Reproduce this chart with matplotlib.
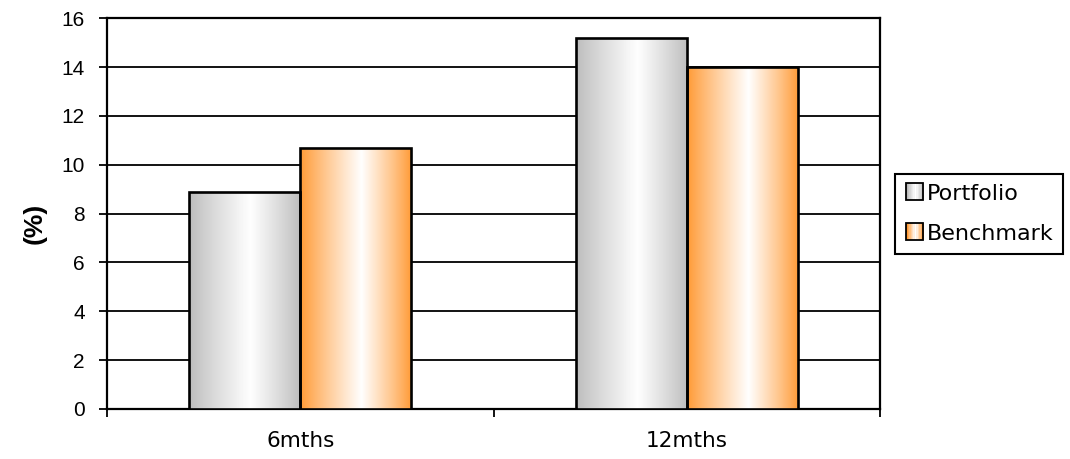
import numpy as np
import matplotlib
matplotlib.use("Agg")
import matplotlib.pyplot as plt
from matplotlib.patches import Rectangle
from matplotlib.legend_handler import HandlerBase
import matplotlib.colors as mcolors

categories = ["6mths", "12mths"]
series_names = ["Portfolio", "Benchmark"]
portfolio = [8.9, 15.2]
benchmark = [10.7, 14.0]
yticks = [0, 2, 4, 6, 8, 10, 12, 14, 16]

colors = ["#bcbcbc", "#ff9933"]

def gradient_rgb(color, n=256, peak=0.55):
    base = np.array(mcolors.to_rgb(color))
    t = np.linspace(0, 1, n)
    w = np.where(t < peak, t / peak, 1 - (t - peak) / (1 - peak))
    w = np.clip(w, 0, 1) ** 0.9
    rgb = base[None, :] * (1 - w[:, None]) + np.ones(3)[None, :] * w[:, None]
    return rgb

fig = plt.figure(figsize=(10.70, 4.59), dpi=100)
ax = fig.add_axes([107 / 1070, 50 / 459, 773 / 1070, (409 - 18.3) / 459])

x = np.arange(len(categories))
width = 0.2875
all_series = [portfolio, benchmark]

for grid_y in yticks:
    ax.axhline(grid_y, color="black", lw=1.3, zorder=1)

for si, (vals, col) in enumerate(zip(all_series, colors)):
    offs = (si - 0.5) * width
    bars = ax.bar(x + offs, vals, width=width, facecolor="none",
                  edgecolor="black", linewidth=1.9, zorder=4,
                  label=series_names[si])
    grad = gradient_rgb(col)[None, :, :]
    for b in bars:
        x0, y0 = b.get_x(), b.get_y()
        w, h = b.get_width(), b.get_height()
        im = ax.imshow(grad, extent=[x0, x0 + w, y0, y0 + h], aspect="auto",
                       interpolation="bilinear", zorder=3, origin="lower")
        clip = Rectangle((x0, y0), w, h, transform=ax.transData)
        im.set_clip_path(clip)

ax.set_xlim(-0.5, 1.5)
ax.set_ylim(0, 16)

ax.set_yticks(yticks)
ax.set_yticklabels([str(v) for v in yticks], fontfamily="Liberation Sans", fontsize=15)
ax.tick_params(axis="y", direction="out", length=6, width=1.3, pad=10, colors="black")

ax.set_xticks(x)
ax.set_xticklabels(categories, fontfamily="DejaVu Sans", fontsize=15.5)
ax.tick_params(axis="x", which="major", length=0, pad=16)
ax.set_xticks([-0.5, 0.5, 1.5], minor=True)
ax.tick_params(axis="x", which="minor", direction="out", length=6, width=1.3)

for s in ax.spines.values():
    s.set_color("black")
    s.set_linewidth(1.6)

ax.set_ylabel("(%)", fontfamily="Liberation Sans", fontweight="bold", fontsize=19)
ax.yaxis.set_label_coords(-0.078, 0.475)


class GradHandler(HandlerBase):
    def __init__(self, color):
        super().__init__()
        self.color = color

    def create_artists(self, legend, orig_handle, xdescent, ydescent,
                       width, height, fontsize, trans):
        size = height * 1.1
        x0 = -xdescent + (width - size)
        y0 = -ydescent + (height - size) / 2
        arts = []
        n = 12
        rgb = gradient_rgb(self.color, n=n)
        for i in range(n):
            r = Rectangle((x0 + i * size / n, y0), size / n + 0.3, size,
                          facecolor=rgb[i], edgecolor="none", transform=trans)
            arts.append(r)
        arts.append(Rectangle((x0, y0), size, size, facecolor="none",
                              edgecolor="black", lw=1.3, transform=trans))
        return arts


h1 = Rectangle((0, 0), 1, 1)
h2 = Rectangle((0, 0), 1, 1)
leg = fig.legend([h1, h2], series_names, loc="center",
                 bbox_to_anchor=(979 / 1070, (459 - 213.5) / 459),
                 handler_map={h1: GradHandler(colors[0]), h2: GradHandler(colors[1])},
                 prop={"family": "DejaVu Sans", "size": 16},
                 frameon=True, fancybox=False, shadow=False,
                 handlelength=0.85, handletextpad=0.15, labelspacing=0.9,
                 borderpad=0.45, borderaxespad=0)
fr = leg.get_frame()
fr.set_edgecolor("black")
fr.set_linewidth(1.5)
fr.set_facecolor("white")
fr.set_alpha(1)

fig.savefig("out.png", dpi=100)
